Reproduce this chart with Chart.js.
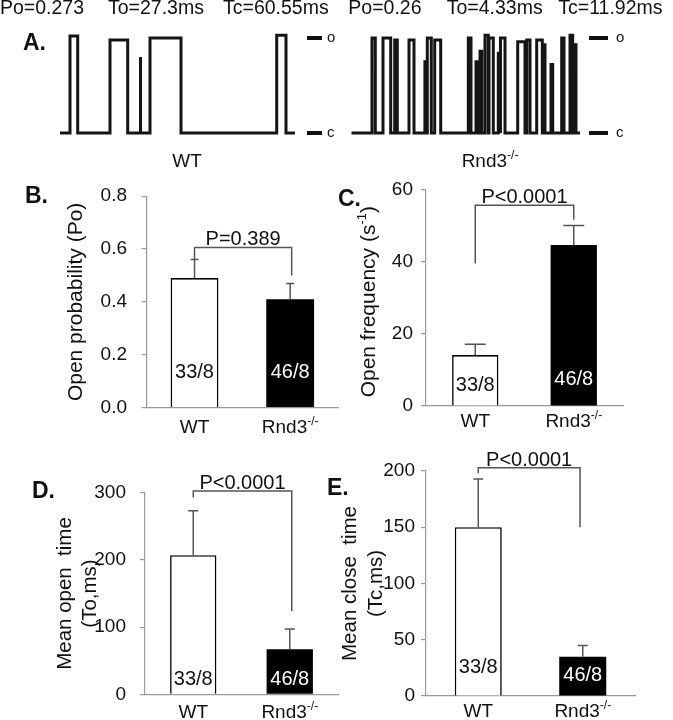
<!DOCTYPE html>
<html>
<head>
<meta charset="utf-8">
<script src="https://cdn.jsdelivr.net/npm/chart.js@4.4.0/dist/chart.umd.min.js"></script>
<style>
html, body { margin: 0; padding: 0; background: #fff; }
#fig { position: relative; width: 673px; height: 720px; overflow: hidden; }
#fig canvas { position: absolute; }
</style>
</head>
<body>
<div id="fig">
  <canvas id="traceWT" width="340" height="170" style="left:0;top:0"></canvas>
  <canvas id="traceKO" width="333" height="170" style="left:340px;top:0"></canvas>
  <canvas id="chartB" width="340" height="270" style="left:0;top:170px"></canvas>
  <canvas id="chartC" width="338" height="270" style="left:335px;top:170px"></canvas>
  <canvas id="chartD" width="340" height="280" style="left:0;top:440px"></canvas>
  <canvas id="chartE" width="353" height="280" style="left:320px;top:440px"></canvas>
</div>
<script>
const FONT = '"Liberation Sans", Arial, sans-serif';

// single channel traces, each opening = [start, end, amplitude] (closed = 0, open = 1)
const wtOpenings = [[10, 17.7, 1.02], [50, 67.7, 0.98], [80, 80.8, 0.8], [90, 121, 1.0], [216.7, 226, 1.03]];
const wtEnd = 235;
const koOpenings = [
  [20.7, 24, 1.0], [31.7, 39.4, 1.0], [43.4, 46, 0.98], [57.7, 62.7, 0.98],
  [73.6, 74.6, 0.75], [76, 80, 1.0], [83.4, 89.4, 0.98],
  [117, 119.7, 1.0], [124.7, 126.4, 0.75], [128.7, 130.4, 0.86], [133.7, 137, 1.03],
  [137.7, 142, 1.0], [147, 148.7, 0.84], [149.4, 153.7, 1.0], [166.4, 173.7, 0.96],
  [175.4, 178.7, 0.98], [185.4, 191, 0.98], [192, 193.7, 0.93], [199.7, 201.4, 0.72],
  [210.4, 212.7, 1.0], [218.7, 221.4, 1.03], [223, 224.7, 0.93]
];
const koEnd = 228.7;
const wtStats = ['Po=0.273', 'To=27.3ms', 'Tc=60.55ms'];
const koStats = ['Po=0.26', 'To=4.33ms', 'Tc=11.92ms'];

// bar panels
const groups = ['WT', 'Rnd3-/-'];
const nCells = ['33/8', '46/8'];

const poMean = [0.49, 0.41];
const poSem = [0.07, 0.06];
const poBracket = [0.606, 0.56, 0.50];   // bar, left leg end, right leg end
const poP = 'P=0.389';

const freqMean = [14.1, 44.6];
const freqSem = [3.0, 5.4];
const freqBracket = [55.6, 39.5, 51.6];
const freqP = 'P<0.0001';

const openMean = [207, 67];
const openSem = [66, 30];
const openBracket = [302.5, 293, 124];
const openP = 'P<0.0001';

const closeMean = [150, 35];
const closeSem = [43, 10];
const closeBracket = [203, 198, 150];
const closeP = 'P<0.0001';

// text with a raised "-/-" or "-1" part
function splitSup(label) {
  const m = label.match(/^(.*?)(-\/-)$/);
  return m ? [[m[1], false], [m[2], true]] : [[label, false]];
}

function drawRich(ctx, parts, x, y, size) {
  const supSize = Math.round(size * 0.62);
  const widths = parts.map(([t, s]) => {
    ctx.font = (s ? supSize : size) + 'px ' + FONT;
    return ctx.measureText(t).width;
  });
  let cx = x - widths.reduce((a, b) => a + b, 0) / 2;
  ctx.textAlign = 'left';
  ctx.textBaseline = 'alphabetic';
  parts.forEach(([t, s], i) => {
    ctx.font = (s ? supSize : size) + 'px ' + FONT;
    ctx.fillText(t, cx, s ? y - size * 0.42 : y);
    cx += widths[i];
  });
}

function createTrace(id, openings, endTime, deco) {
  const pts = [{x: 0, y: 0}];
  openings.forEach(([t0, t1, a]) => {
    pts.push({x: t0, y: 0}, {x: t0, y: a}, {x: t1, y: a}, {x: t1, y: 0});
  });
  pts.push({x: endTime, y: 0});

  return new Chart(document.getElementById(id), {
    type: 'line',
    data: {
      datasets: [{
        data: pts,
        borderColor: '#151515',
        borderWidth: 3,
        borderJoinStyle: 'miter',
        pointRadius: 0,
        tension: 0,
        fill: false
      }]
    },
    options: {
      responsive: false,
      animation: false,
      events: [],
      layout: { padding: deco.padding },
      plugins: { legend: { display: false }, tooltip: { enabled: false } },
      scales: {
        x: { type: 'linear', display: false, min: 0, max: endTime },
        y: { display: false, min: -0.179, max: 1.137 }
      }
    },
    plugins: [{
      id: 'traceDeco',
      afterDraw(chart) {
        const { ctx, chartArea, scales } = chart;
        ctx.save();
        ctx.fillStyle = '#111';
        ctx.strokeStyle = '#111';
        // header values
        ctx.font = '19.5px ' + FONT;
        ctx.textAlign = 'left';
        ctx.textBaseline = 'alphabetic';
        deco.stats.forEach((t, i) => ctx.fillText(t, deco.statX[i], 14));
        // panel letter
        if (deco.letter) {
          ctx.font = 'bold 23px ' + FONT;
          ctx.fillText(deco.letter, 23, 50);
        }
        // caption under trace
        drawRich(ctx, splitSup(deco.caption), deco.captionX, 167, 19);
        // open / closed level marks
        const x0 = chartArea.right + deco.markGap;
        ctx.lineWidth = 4;
        [[1, 'o'], [0, 'c']].forEach(([lvl, ch]) => {
          const py = scales.y.getPixelForValue(lvl);
          ctx.beginPath();
          ctx.moveTo(x0, py);
          ctx.lineTo(x0 + deco.markLen, py);
          ctx.stroke();
          ctx.font = '15px ' + FONT;
          ctx.textBaseline = 'middle';
          ctx.fillText(ch, x0 + deco.markLen + deco.letterGap, py);
        });
        ctx.restore();
      }
    }]
  });
}

function createPanel(id, cfg) {
  return new Chart(document.getElementById(id), {
    type: 'bar',
    data: {
      labels: groups,
      datasets: [{
        data: cfg.mean,
        backgroundColor: ['#ffffff', '#000000'],
        borderColor: '#000',
        borderWidth: [1.6, 0],
        borderSkipped: 'bottom',
        barPercentage: cfg.barPct,
        categoryPercentage: 1
      }]
    },
    options: {
      responsive: false,
      animation: false,
      events: [],
      layout: { padding: cfg.padding },
      plugins: { legend: { display: false }, tooltip: { enabled: false } },
      scales: {
        x: {
          grid: { display: false },
          border: { color: '#999', width: 1.2 },
          ticks: { display: false },
          afterFit(s) { s.height = cfg.xHeight; }
        },
        y: {
          min: 0,
          max: cfg.max,
          ticks: {
            stepSize: cfg.step,
            padding: cfg.tickPad,
            color: '#111',
            font: { family: FONT, size: 19 },
            callback: cfg.fmt || ((v) => v)
          },
          grid: { drawOnChartArea: false, tickLength: 5, color: '#999', lineWidth: 1.2 },
          border: { color: '#999', width: 1.2 },
          title: cfg.title ? {
            display: true,
            text: cfg.title,
            color: '#111',
            font: { family: FONT, size: cfg.titleSize, lineHeight: cfg.titleLH },
            padding: 0
          } : { display: false },
          afterFit(s) { s.width = cfg.yWidth; }
        }
      }
    },
    plugins: [{
      id: 'panelDeco',
      afterDraw(chart) {
        const { ctx, chartArea, scales: { x, y } } = chart;
        ctx.save();
        ctx.strokeStyle = '#555';
        ctx.lineWidth = 1.5;
        // one-sided error bars
        cfg.mean.forEach((m, i) => {
          const px = x.getPixelForValue(i);
          const y0 = y.getPixelForValue(m);
          const y1 = y.getPixelForValue(m + cfg.sem[i]);
          ctx.beginPath();
          ctx.moveTo(px, y0);
          ctx.lineTo(px, y1);
          ctx.moveTo(px - cfg.cap / 2, y1);
          ctx.lineTo(px + cfg.cap / 2, y1);
          ctx.stroke();
        });
        // significance bracket
        const [bv, lv, rv] = cfg.bracket;
        const xl = x.getPixelForValue(0);
        const xr = x.getPixelForValue(1) + (cfg.rightLegShift || 0);
        const yb = y.getPixelForValue(bv);
        ctx.beginPath();
        ctx.moveTo(xl, y.getPixelForValue(lv));
        ctx.lineTo(xl, yb);
        ctx.lineTo(xr, yb);
        ctx.lineTo(xr, y.getPixelForValue(rv));
        ctx.stroke();
        ctx.fillStyle = '#111';
        ctx.font = '20px ' + FONT;
        ctx.textAlign = 'center';
        ctx.textBaseline = 'alphabetic';
        ctx.fillText(cfg.pText, (xl + xr) / 2, yb - 2);
        // n numbers inside the bars
        nCells.forEach((t, i) => {
          ctx.fillStyle = i === 0 ? '#111' : '#fff';
          ctx.fillText(t, x.getPixelForValue(i), chartArea.bottom - cfg.nOffset[i]);
        });
        // group labels
        ctx.fillStyle = '#111';
        groups.forEach((g, i) => {
          drawRich(ctx, splitSup(g), x.getPixelForValue(i), chartArea.bottom + cfg.labelDrop, 19);
        });
        // rotated title with superscript (panel C)
        if (cfg.richTitle) {
          ctx.save();
          ctx.translate(cfg.richTitleX, (chartArea.top + chartArea.bottom) / 2 + 4);
          ctx.rotate(-Math.PI / 2);
          drawRich(ctx, cfg.richTitle, 0, 7, cfg.titleSize);
          ctx.restore();
        }
        // panel letter
        ctx.font = 'bold 23px ' + FONT;
        ctx.textAlign = 'left';
        ctx.fillText(cfg.letter, cfg.letterPos[0], cfg.letterPos[1]);
        ctx.restore();
      }
    }]
  });
}

createTrace('traceWT', wtOpenings, wtEnd, {
  padding: { left: 60, right: 45, top: 25, bottom: 20 },
  stats: wtStats, statX: [0, 108, 223], letter: 'A.',
  caption: groups[0], captionX: 187,
  markGap: 12, markLen: 15, letterGap: 5
});

createTrace('traceKO', koOpenings, koEnd, {
  padding: { left: 11.3, right: 93, top: 25, bottom: 20 },
  stats: koStats, statX: [8.3, 106.7, 218.3], letter: null,
  caption: groups[1], captionX: 150,
  markGap: 9, markLen: 19, letterGap: 8
});

createPanel('chartB', {
  mean: poMean, sem: poSem, bracket: poBracket, pText: poP,
  max: 0.8, step: 0.2, fmt: (v) => v.toFixed(1), tickPad: 14.7,
  padding: { left: 64.1, top: 16.7, right: 2, bottom: 0 },
  yWidth: 82.6, xHeight: 32.3, barPct: 0.5, cap: 8,
  title: 'Open probability (Po)', titleSize: 21, titleLH: 1.2,
  nOffset: [29.4, 29.4], labelDrop: 25.6,
  letter: 'B.', letterPos: [25, 33.3], rightLegShift: 1.5
});

createPanel('chartC', {
  mean: freqMean, sem: freqSem, bracket: freqBracket, pText: freqP,
  max: 60, step: 20, tickPad: 8,
  padding: { left: 0, top: 16.7, right: 50, bottom: 0 },
  yWidth: 91, xHeight: 34, barPct: 0.47, cap: 21,
  richTitle: [['Open frequency (s', false], ['-1', true], [')', false]],
  richTitleX: 33, titleSize: 21,
  nOffset: [15, 21], labelDrop: 20.7,
  letter: 'C.', letterPos: [3, 36]
});

createPanel('chartD', {
  mean: openMean, sem: openSem, bracket: openBracket, pText: openP,
  max: 300, step: 100, tickPad: 14,
  padding: { left: 52.5, top: 52.7, right: 2, bottom: 0 },
  yWidth: 92.5, xHeight: 25.7, barPct: 0.48, cap: 10,
  title: ['Mean open  time', '(To,ms)'], titleSize: 20.5, titleLH: 1.22,
  nOffset: [9.3, 9.3], labelDrop: 24,
  letter: 'D.', letterPos: [32, 58], rightLegShift: 2
});

createPanel('chartE', {
  mean: closeMean, sem: closeSem, bracket: closeBracket, pText: closeP,
  max: 200, step: 50, tickPad: 6,
  padding: { left: 16.7, top: 31, right: 38, bottom: 0 },
  yWidth: 89.3, xHeight: 24, barPct: 0.45, cap: 10,
  title: ['Mean close  time', '(Tc,ms)'], titleSize: 20.5, titleLH: 1.3,
  nOffset: [22.7, 15.3], labelDrop: 20.7,
  letter: 'E.', letterPos: [7, 55], rightLegShift: -2.7
});
</script>
</body>
</html>
